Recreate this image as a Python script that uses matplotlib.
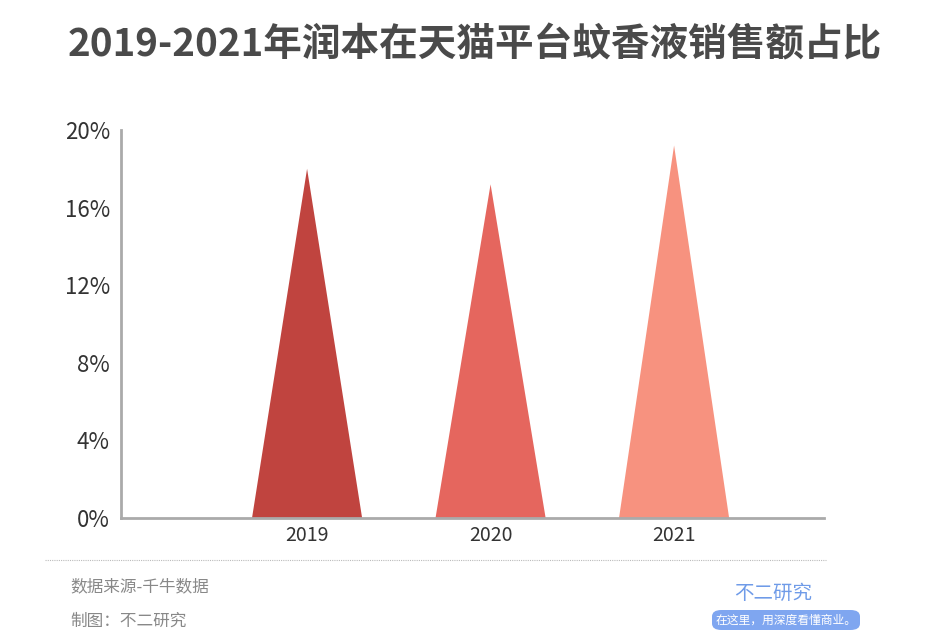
import matplotlib
matplotlib.use("Agg")
import matplotlib.pyplot as plt
from matplotlib.patches import FancyBboxPatch

plt.rcParams['font.family'] = ['Noto Sans CJK SC', 'DejaVu Sans']

title = "2019-2021年润本在天猫平台蚊香液销售额占比"
years = ["2019", "2020", "2021"]
shares = [18.0, 17.2, 19.2]
colors = ["#C0443F", "#E5665E", "#F7927F"]
yticks = [0, 4, 8, 12, 16, 20]
ytick_labels = ["0%", "4%", "8%", "12%", "16%", "20%"]
source_text = "数据来源-千牛数据"
maker_text = "制图：不二研究"

fig = plt.figure(figsize=(9.4, 6.44), dpi=100)
ax = fig.add_axes([121/940, 1-518/644, (824-121)/940, (518-130)/644])

half = 0.3
for i, (v, c) in enumerate(zip(shares, colors)):
    ax.fill([i - half, i, i + half], [0, v, 0], color=c, lw=0, zorder=2)

ax.set_xlim(-1.014, 2.817)
ax.set_ylim(0, 20)
ax.set_xticks(range(len(years)))
ax.set_xticklabels(years, fontsize=14, color="#333333")
ax.set_yticks(yticks)
ax.set_yticklabels(ytick_labels, fontsize=16, color="#333333")
ax.tick_params(axis='both', length=0)
ax.tick_params(axis='x', pad=5)
ax.tick_params(axis='y', pad=8)
for s in ["top", "right"]:
    ax.spines[s].set_visible(False)
for s in ["left", "bottom"]:
    ax.spines[s].set_color("#AAAAAA")
    ax.spines[s].set_linewidth(2)

fig.text(475/940, 1-45/644, title, ha='center', va='center', fontsize=27.8,
         fontweight='bold', color='#4A4A4A')

# dashed separator
fig.add_artist(plt.Line2D([45/940, 826/940], [1-560/644, 1-560/644],
                          transform=fig.transFigure, color='#BBBBBB',
                          lw=0.8, linestyle=(0, (1, 1))))

fig.text(70/940, 1-587/644, source_text, ha='left', va='center', fontsize=12, color='#888888')
fig.text(70/940, 1-621/644, maker_text, ha='left', va='center', fontsize=12, color='#888888')

# logo
fig.text(773/940, 1-593/644, "不二研究", ha='center', va='center', fontsize=14, color='#6F9BE8')
pill = FancyBboxPatch((712/940, 1-630/644), 148/940, 20/644,
                      boxstyle="round,pad=0,rounding_size=0.01",
                      transform=fig.transFigure, facecolor='#7FA6F0', edgecolor='none')
fig.add_artist(pill)
fig.text(786/940, 1-620/644, "在这里，用深度看懂商业。", ha='center', va='center',
         fontsize=8.5, color='white')

fig.savefig("out.png", dpi=100, facecolor='white')
